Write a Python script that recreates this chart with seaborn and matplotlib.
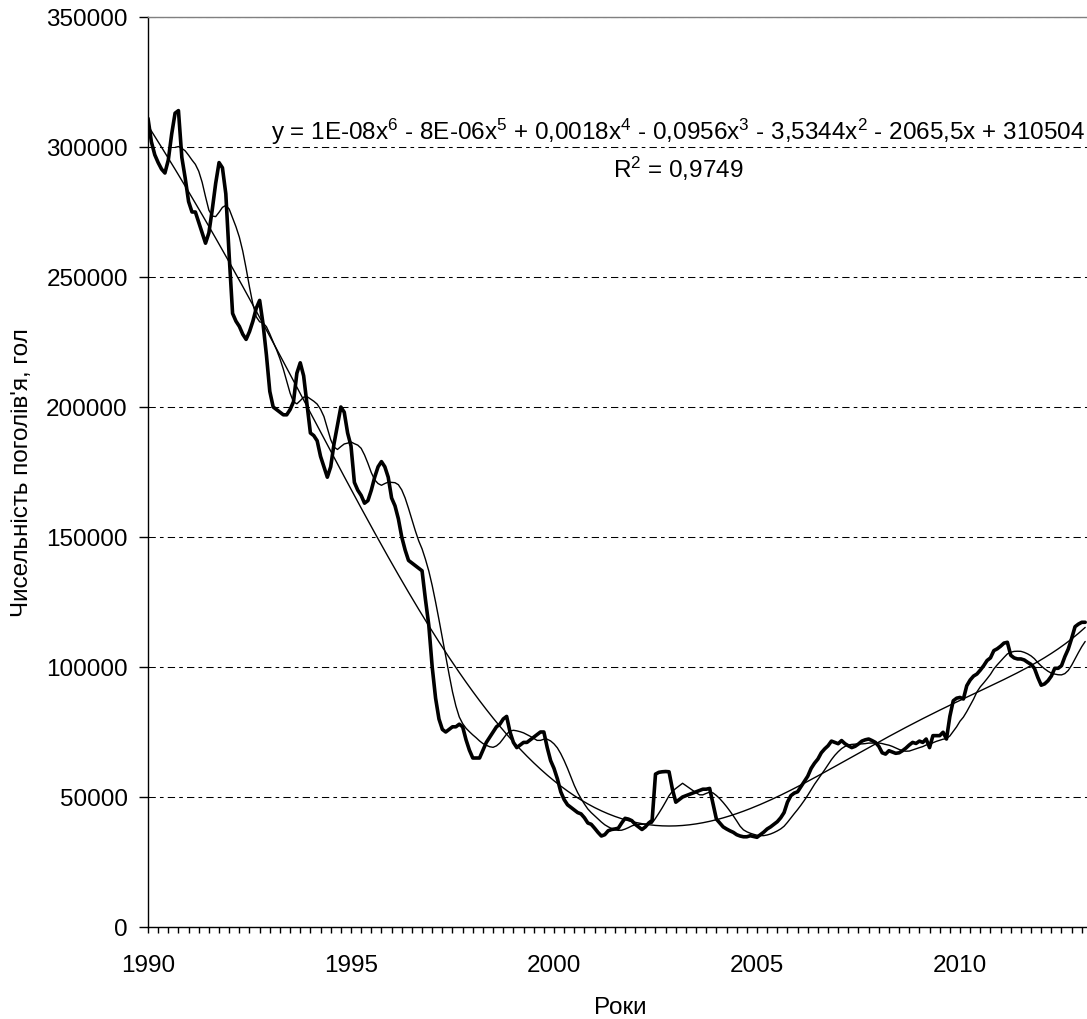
import numpy as np
import pandas as pd
import matplotlib
matplotlib.use("Agg")
import matplotlib.pyplot as plt
from matplotlib.ticker import MultipleLocator, FuncFormatter
import seaborn as sns

# Monthly herd size (thousand head), January 1990 onwards
herd_thousands = [
    311, 302, 297, 294, 291.5, 290, 295, 305, 313, 314, 296, 288,            # 1990
    279, 275, 275, 271, 267, 263, 267, 276, 286, 294, 292, 282,              # 1991
    258, 236, 233, 231, 228, 226, 229, 233, 238, 241, 232, 220,              # 1992
    206, 200, 199, 198, 197, 197, 199, 202, 213, 217, 212, 201,              # 1993
    190, 189, 187, 181, 177, 173, 177, 186, 193, 200, 198, 190,              # 1994
    185, 171, 168, 166, 163, 164, 168, 173, 177, 179, 177, 173,              # 1995
    165, 162, 157, 150, 145, 141, 140, 139, 138, 137, 126, 116,              # 1996
    100, 88, 80, 76, 75, 76, 77, 77, 78, 77, 72, 68,                         # 1997
    65, 65, 65, 68, 71, 73, 75, 77, 78, 80, 81, 75,                          # 1998
    71, 69, 70, 71, 71, 72, 73, 74, 75, 75, 69, 64,                          # 1999
    61, 57, 52, 49, 47, 46, 45, 44, 43.5, 42, 40, 39.5,                      # 2000
    38, 36.4, 35, 35.5, 37, 37.5, 37.7, 38, 40, 41.8, 41.5, 40.9,            # 2001
    39.5, 38.5, 37.5, 38.5, 40, 41, 58.8, 59.5, 59.7, 59.8, 59.7, 53,        # 2002
    48, 49, 50, 50.5, 51, 51.5, 52, 52.5, 53, 53, 53.3, 47.3,                # 2003
    41.5, 40, 38.5, 37.7, 37, 36.4, 35.5, 35, 34.7, 34.7, 35.1, 34.8,        # 2004
    34.5, 35.5, 36.5, 37.7, 38.5, 39.5, 40.5, 42, 44, 48, 50.5, 51.5,        # 2005
    52, 54, 56, 58, 61, 63, 64.6, 67, 68.5, 69.7, 71.5, 71,                  # 2006
    70.5, 71.7, 70.5, 69.7, 69, 69.5, 70.4, 71.5, 72, 72.3, 71.7, 71,        # 2007
    69.5, 67, 66.5, 67.8, 67.3, 66.8, 67, 67.8, 68.8, 70, 71, 70.6,          # 2008
    71.5, 71, 72.3, 69, 73.6, 73.6, 73.6, 74.9, 72.3, 81, 87, 88,            # 2009
    88.3, 87.7, 92.8, 95, 96.5, 97.3, 98.8, 100.5, 102.5, 103.5, 106.3, 107, # 2010
    108, 109.2, 109.5, 104.5, 103.5, 103.1, 103.1, 102.7, 101.8, 101, 99.5, 96,  # 2011
    93, 93.5, 94.7, 96.5, 99.5, 99.5, 100.5, 104, 106.9, 111, 115.5, 116.5,  # 2012
    117.2, 117.2,                                                            # 2013
]
start_year = 1990
tick_years = [1990, 1995, 2000, 2005, 2010]
y_ticks = [0, 50000, 100000, 150000, 200000, 250000, 300000, 350000]
ma_window = 9
poly_degree = 6

equation_label = ("y = 1E-08x$^{6}$ - 8E-06x$^{5}$ + 0,0018x$^{4}$ - 0,0956x$^{3}$"
                  " - 3,5344x$^{2}$ - 2065,5x + 310504")
r2_label = "R$^{2}$ = 0,9749"
x_title = "Роки"
y_title = "Чисельність поголів'я, гол"

# ---- derived series -------------------------------------------------------
herd = np.asarray(herd_thousands, dtype=float) * 1000
n = len(herd)
idx = np.arange(1, n + 1)
t = start_year + (idx - 1) / 12.0
moving_avg = pd.Series(herd).rolling(ma_window).mean().to_numpy()
poly = np.polynomial.Polynomial.fit(idx, herd, poly_degree)
trend = poly(idx)

df = pd.DataFrame({"t": t, "herd": herd, "ma": moving_avg, "trend": trend})

# ---- style ------------------------------------------------------------------
sns.set_theme(style="white")
plt.rcParams["font.family"] = ["Liberation Sans", "DejaVu Sans"]
plt.rcParams["mathtext.default"] = "regular"
FS = 17.5

W, H = 1087, 1020
fig = plt.figure(figsize=(W / 100, H / 100), dpi=100)
fig.patch.set_facecolor("white")
left_px, right_px, top_px, bottom_px = 148, 1096, 18, 928
ax = fig.add_axes([left_px / W, 1 - bottom_px / H,
                   (right_px - left_px) / W, (bottom_px - top_px) / H])
ax.set_facecolor("white")

sns.lineplot(data=df, x="t", y="herd", ax=ax, color="black", lw=2.6,
             estimator=None, sort=False, zorder=4)
sns.lineplot(data=df.dropna(), x="t", y="ma", ax=ax, color="black", lw=1.0,
             estimator=None, sort=False, zorder=3)
sns.lineplot(data=df, x="t", y="trend", ax=ax, color="black", lw=1.0,
             estimator=None, sort=False, zorder=3)

ax.set_xlim(start_year, start_year + (right_px - left_px) / 40.6)
ax.set_ylim(0, 350000)

# horizontal dashed gridlines
ax.set_yticks(y_ticks)
ax.yaxis.grid(True, color="black", lw=0.75, linestyle=(0, (7, 4, 3.5, 4)))
ax.xaxis.grid(False)
ax.set_axisbelow(True)
ax.yaxis.set_major_formatter(FuncFormatter(lambda v, _: f"{int(round(v))}"))

ax.set_xticks(tick_years)
ax.set_xticklabels([str(y) for y in tick_years])
ax.xaxis.set_minor_locator(MultipleLocator(0.25))

ax.tick_params(axis="y", which="both", direction="out", length=6.5, width=1,
               color="black", pad=8, labelsize=FS, labelcolor="black", left=True)
ax.tick_params(axis="x", which="both", direction="out", length=4.3, width=1,
               color="black", pad=15, labelsize=FS, labelcolor="black", bottom=True)

for side in ("left", "bottom"):
    ax.spines[side].set_color("black")
    ax.spines[side].set_linewidth(1.0)
ax.spines["top"].set_color("#808080")
ax.spines["top"].set_linewidth(1.0)
ax.spines["right"].set_visible(False)

ax.set_xlabel("")
ax.set_ylabel("")

fig.text(22 / W, 1 - 473 / H, y_title, rotation=90, ha="center", va="center",
         fontsize=FS, color="black")
fig.text(620 / W, 1 - 1008 / H, x_title, ha="center", va="center",
         fontsize=FS, color="black")

fig.text(677.5 / W, 1 - 140 / H, equation_label, ha="center", va="baseline",
         fontsize=FS, color="black")
fig.text(678 / W, 1 - 178 / H, r2_label, ha="center", va="baseline",
         fontsize=FS, color="black")

fig.savefig("out.png", dpi=100, facecolor="white")
